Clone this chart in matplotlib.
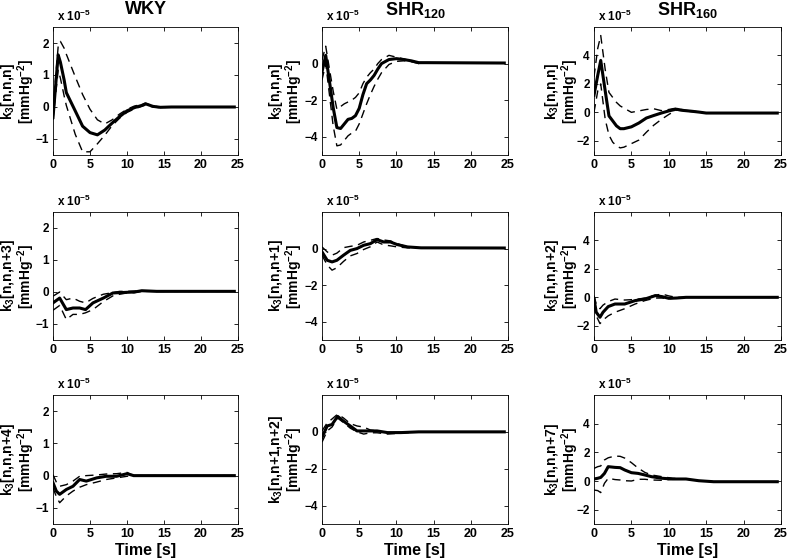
import matplotlib
matplotlib.use("Agg")
import matplotlib.pyplot as plt

plt.rcParams['font.family'] = 'sans-serif'
plt.rcParams['font.sans-serif'] = ['Liberation Sans', 'DejaVu Sans']
plt.rcParams['font.weight'] = 'bold'
plt.rcParams['mathtext.fontset'] = 'custom'
plt.rcParams['mathtext.bf'] = 'Liberation Sans:bold'
plt.rcParams['mathtext.rm'] = 'Liberation Sans:bold'
plt.rcParams['mathtext.default'] = 'bf'

# Kernel values, in units of 1e-5 mmHg^-2 (mean, upper and lower bound)
# WKY k3[n,n,n]
wky_a_t = [0, 0.7, 1.0, 1.5, 1.8, 3, 4, 5, 6, 7, 8, 9, 10, 11, 12, 12.5, 13.5, 14.5, 16, 24.5]
wky_a_mean = [-0.33, 1.63, 1.4, 0.85, 0.45, -0.12, -0.6, -0.8, -0.87, -0.72, -0.5, -0.3, -0.12, -0.02, 0.05, 0.1, 0.02, -0.01, 0.0, 0.0]
wky_a_up = [-0.1, 1.9, 2.05, 1.84, 1.65, 0.95, 0.39, -0.07, -0.4, -0.53, -0.4, -0.22, -0.07, 0.03, 0.08, 0.12, 0.03, 0.0, 0.0, 0.0]
wky_a_lo = [-0.4, 1.15, 0.9, 0.35, 0.05, -0.85, -1.4, -1.4, -1.15, -0.88, -0.58, -0.35, -0.17, -0.06, 0.02, 0.06, 0.0, -0.02, 0.0, 0.0]

# SHR120 k3[n,n,n]
s12_a_t = [0, 0.5, 1, 1.5, 2, 2.5, 3, 3.5, 4, 4.5, 5, 5.5, 6, 6.5, 7, 7.5, 8, 9, 10, 11, 12, 13, 14, 24.5]
s12_a_mean = [-0.45, 0.45, -0.96, -2.4, -3.5, -3.55, -3.3, -3.05, -3.0, -2.85, -2.45, -1.7, -1.1, -0.9, -0.65, -0.3, 0.0, 0.22, 0.27, 0.22, 0.15, 0.05, 0.05, 0.03]
s12_a_up = [0.2, 0.95, -0.3, -1.5, -2.5, -2.35, -2.2, -2.1, -2.0, -1.85, -1.6, -1.1, -0.75, -0.5, -0.3, 0.0, 0.22, 0.45, 0.35, 0.25, 0.15, 0.05, 0.05, 0.03]
s12_a_lo = [-0.9, 0.0, -1.7, -3.4, -4.5, -4.45, -4.2, -3.95, -3.8, -3.7, -3.3, -2.75, -2.2, -1.7, -1.25, -0.85, -0.5, -0.05, 0.12, 0.15, 0.1, 0.0, 0.03, 0.03]

# SHR160 k3[n,n,n]
s16_a_t = [0, 0.5, 0.9, 1.5, 2, 2.5, 3, 3.5, 4, 5, 6, 7, 8, 9, 10, 11, 12, 13, 14, 15, 24.5]
s16_a_mean = [1.2, 2.6, 3.65, 1.5, -0.25, -0.6, -0.95, -1.15, -1.15, -1.02, -0.75, -0.4, -0.22, -0.05, 0.1, 0.22, 0.13, 0.08, 0.02, -0.05, -0.05]
s16_a_up = [2.5, 4.5, 5.4, 3.0, 1.4, 1.05, 0.7, 0.45, 0.3, 0.0, 0.1, 0.2, 0.25, 0.12, 0.2, 0.3, 0.15, 0.1, 0.03, -0.03, -0.05]
s16_a_lo = [0.0, 1.5, 2.0, -0.5, -1.6, -2.1, -2.35, -2.5, -2.45, -2.2, -1.95, -1.4, -0.9, -0.5, -0.15, 0.15, 0.1, 0.05, 0.0, -0.05, -0.05]

# WKY k3[n,n,n+3]
wky_b_t = [0, 0.9, 1.8, 2.7, 3.6, 4.4, 5.4, 6.8, 8.1, 9, 10, 11, 12, 14, 24.5]
wky_b_mean = [-0.34, -0.19, -0.55, -0.5, -0.5, -0.55, -0.34, -0.19, -0.03, -0.02, -0.01, 0.0, 0.04, 0.02, 0.02]
wky_b_up = [-0.13, 0.0, -0.24, -0.19, -0.29, -0.34, -0.2, -0.07, -0.02, 0.02, 0.02, 0.03, 0.04, 0.02, 0.02]
wky_b_lo = [-0.57, -0.42, -0.86, -0.7, -0.7, -0.65, -0.55, -0.3, -0.12, -0.07, -0.03, -0.02, 0.02, 0.02, 0.02]

# SHR120 k3[n,n,n+1]
s12_b_t = [0, 0.7, 1.35, 2, 2.9, 3.8, 4.7, 5.6, 6.5, 7.4, 8.3, 9.2, 10.1, 11.5, 13.3, 24.5]
s12_b_mean = [-0.18, -0.64, -0.73, -0.64, -0.36, -0.1, 0.0, 0.18, 0.27, 0.49, 0.36, 0.36, 0.22, 0.09, 0.04, 0.03]
s12_b_up = [0.09, -0.18, -0.36, -0.25, 0.05, 0.12, 0.18, 0.36, 0.45, 0.55, 0.47, 0.42, 0.27, 0.09, 0.04, 0.03]
s12_b_lo = [-0.36, -0.9, -1.18, -1.05, -0.7, -0.4, -0.27, -0.05, 0.1, 0.36, 0.2, 0.15, 0.09, 0.04, 0.03, 0.03]

# SHR160 k3[n,n,n+2]
s16_b_t = [0, 0.3, 0.8, 1.2, 1.9, 2.8, 4.1, 5.5, 6.8, 8.2, 9.1, 10, 11, 12.3, 24.5]
s16_b_mean = [-0.1, -1.05, -1.4, -1.05, -0.65, -0.47, -0.47, -0.23, -0.12, 0.12, 0.05, -0.07, -0.05, 0.0, 0.0]
s16_b_up = [0.12, -0.47, -0.8, -0.55, -0.3, -0.12, -0.19, -0.15, -0.05, 0.15, 0.23, 0.1, 0.0, 0.0, 0.0]
s16_b_lo = [-0.47, -1.3, -1.85, -1.6, -1.3, -1.05, -0.8, -0.47, -0.23, -0.05, -0.05, -0.1, -0.05, 0.0, 0.0]

# WKY k3[n,n,n+4]
wky_c_t = [0, 0.45, 0.9, 1.8, 2.7, 3.6, 4.5, 5.9, 7.2, 8.6, 10, 10.9, 14, 24.5]
wky_c_mean = [-0.22, -0.48, -0.58, -0.43, -0.33, -0.12, -0.17, -0.07, -0.02, -0.02, 0.06, 0.0, 0.0, 0.0]
wky_c_up = [0.03, -0.2, -0.33, -0.28, -0.17, -0.02, 0.0, 0.02, 0.05, 0.06, 0.1, 0.0, 0.0, 0.0]
wky_c_lo = [-0.38, -0.65, -0.84, -0.63, -0.48, -0.36, -0.28, -0.2, -0.12, -0.07, -0.02, 0.0, 0.0, 0.0]

# SHR120 k3[n,n+1,n+2]
s12_c_t = [0, 0.7, 1.35, 2.1, 2.9, 3.8, 4.7, 5.6, 6.5, 7.4, 8.8, 10.6, 13, 24.5]
s12_c_mean = [-0.3, 0.32, 0.4, 0.84, 0.58, 0.32, 0.05, 0.05, 0.05, 0.05, -0.04, -0.04, 0.0, 0.0]
s12_c_up = [0.05, 0.49, 0.7, 0.96, 0.75, 0.45, 0.32, 0.26, 0.1, 0.05, -0.04, -0.02, 0.0, 0.0]
s12_c_lo = [-0.56, 0.05, 0.26, 0.75, 0.5, 0.2, 0.0, -0.12, -0.05, -0.05, -0.12, -0.07, 0.0, 0.0]

# SHR160 k3[n,n,n+7]
s16_c_t = [0, 0.5, 0.9, 1.4, 1.9, 2.8, 3.5, 4.1, 5, 5.9, 6.8, 7.7, 9.1, 10.5, 12.3, 14, 16, 24.5]
s16_c_mean = [0.14, 0.19, 0.25, 0.53, 1.0, 0.95, 0.93, 0.77, 0.58, 0.53, 0.42, 0.3, 0.19, 0.14, 0.14, 0.02, -0.05, -0.05]
s16_c_up = [0.88, 1.0, 1.05, 1.47, 1.62, 1.74, 1.72, 1.6, 1.28, 0.9, 0.6, 0.42, 0.3, 0.19, 0.14, 0.02, -0.05, -0.05]
s16_c_lo = [-0.63, -0.67, -0.81, -0.16, 0.19, 0.1, 0.07, 0.02, 0.0, 0.12, 0.12, 0.07, 0.05, 0.12, 0.14, 0.02, -0.05, -0.05]

titles = ['WKY', 'SHR$_{120}$', 'SHR$_{160}$']
ylabels = [
    ['k$_3$[n,n,n]', 'k$_3$[n,n,n]', 'k$_3$[n,n,n]'],
    ['k$_3$[n,n,n+3]', 'k$_3$[n,n,n+1]', 'k$_3$[n,n,n+2]'],
    ['k$_3$[n,n,n+4]', 'k$_3$[n,n+1,n+2]', 'k$_3$[n,n,n+7]'],
]
ylims = [(-1.5, 2.5), (-5, 2), (-3, 6)]
yticks = [[-1, 0, 1, 2], [-4, -2, 0], [-2, 0, 2, 4]]
xticks = [0, 5, 10, 15, 20, 25]

panels = [
    [(wky_a_t, wky_a_mean, wky_a_up, wky_a_lo),
     (s12_a_t, s12_a_mean, s12_a_up, s12_a_lo),
     (s16_a_t, s16_a_mean, s16_a_up, s16_a_lo)],
    [(wky_b_t, wky_b_mean, wky_b_up, wky_b_lo),
     (s12_b_t, s12_b_mean, s12_b_up, s12_b_lo),
     (s16_b_t, s16_b_mean, s16_b_up, s16_b_lo)],
    [(wky_c_t, wky_c_mean, wky_c_up, wky_c_lo),
     (s12_c_t, s12_c_mean, s12_c_up, s12_c_lo),
     (s16_c_t, s16_c_mean, s16_c_up, s16_c_lo)],
]

W, H = 787, 559
fig = plt.figure(figsize=(W / 100, H / 100), dpi=100)

# axes boxes in pixels: left, right / top, bottom
cols = [(53, 238), (322, 508), (594, 781)]
rows = [(27, 155), (212, 340), (395, 524)]
label_x = [-0.086, -0.092, -0.07]

for r in range(3):
    for c in range(3):
        l, rr = cols[c]
        top, bot = rows[r]
        ax = fig.add_axes([l / W, 1 - bot / H, (rr - l) / W, (bot - top) / H])
        t, mean, up, lo = panels[r][c]
        ax.plot(t, up, color='black', lw=1.0, dashes=(6, 4))
        ax.plot(t, lo, color='black', lw=1.0, dashes=(6, 4))
        ax.plot(t, mean, color='black', lw=2.2)
        ax.set_xlim(0, 25)
        ax.set_ylim(ylims[c])
        ax.set_xticks(xticks)
        ax.set_yticks(yticks[c])
        ax.tick_params(direction='in', top=True, right=True, length=3,
                       width=0.6, labelsize=8.5, pad=3)
        ax.tick_params(axis='x', labelsize=9)
        for lab in ax.get_xticklabels() + ax.get_yticklabels():
            lab.set_fontweight('bold')
        for s in ax.spines.values():
            s.set_linewidth(0.6)
        ax.set_ylabel(ylabels[r][c] + '\n[mmHg$^{-2}$]', fontsize=10,
                      fontweight='bold', linespacing=0.9)
        ax.yaxis.set_label_coords(label_x[c], 0.5)
        ax.text(0.02, 1.02, 'x 10$^{-5}$', transform=ax.transAxes,
                fontsize=8.5, fontweight='bold', va='bottom', ha='left')
        if r == 0:
            ax.set_title(titles[c], fontsize=13, fontweight='bold', pad=9)
        if r == 2:
            ax.set_xlabel('Time [s]', fontsize=11.5, fontweight='bold', labelpad=2)

fig.savefig('out.png', dpi=100)
